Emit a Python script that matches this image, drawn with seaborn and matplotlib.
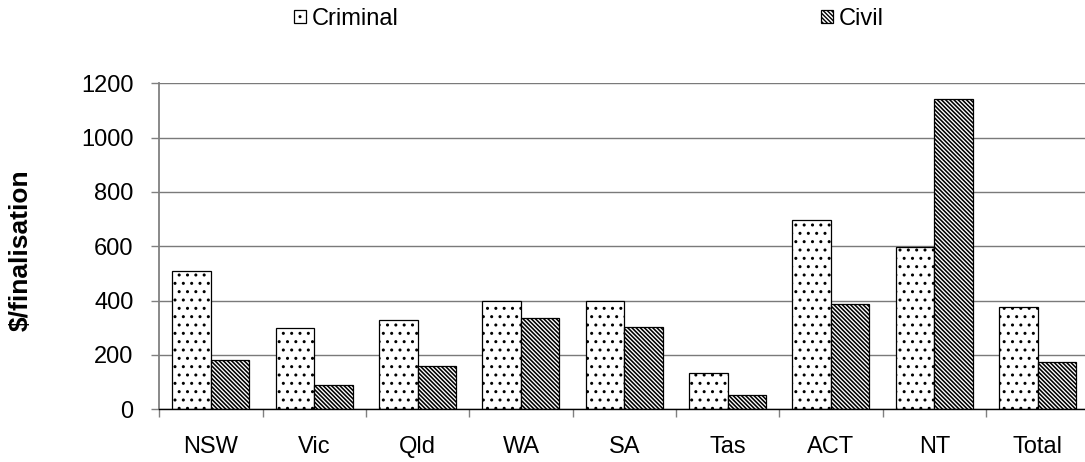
import matplotlib
matplotlib.use("Agg")
import matplotlib.pyplot as plt
import seaborn as sns
import pandas as pd
from matplotlib.ticker import FixedLocator

# values ($ per finalisation)
regions = ["NSW", "Vic", "Qld", "WA", "SA", "Tas", "ACT", "NT", "Total"]
criminal = [510, 298, 328, 398, 398, 133, 696, 597, 378]
civil = [183, 88, 158, 335, 304, 52, 387, 1141, 173]
series = ["Criminal", "Civil"]
y_ticks = [0, 200, 400, 600, 800, 1000, 1200]

df = pd.DataFrame({
    "region": regions * 2,
    "type": [series[0]] * len(regions) + [series[1]] * len(regions),
    "cost": criminal + civil,
})

sns.set_style("white")
plt.rcParams["font.family"] = ["Liberation Sans", "DejaVu Sans"]
plt.rcParams["text.color"] = "black"
plt.rcParams["axes.labelcolor"] = "black"
plt.rcParams["xtick.color"] = "black"
plt.rcParams["ytick.color"] = "black"
plt.rcParams["hatch.linewidth"] = 1.0

W, H = 1085, 462
fig = plt.figure(figsize=(W / 100, H / 100), dpi=100)
ax = fig.add_axes([159.3 / W, 52.7 / H, 930 / W, 326 / H])

sns.barplot(data=df, x="region", y="cost", hue="type", hue_order=series,
            palette=["white", "white"], saturation=1, edgecolor="black",
            linewidth=0.9, width=0.745, legend=False, ax=ax)

# dotted criminal, dense diagonal civil
hatches = ["..", "\\" * 8]
hatch_cols = ["#555555", "black"]
hatch_lws = [1.0, 1.15]
for cont, h, hc, hl in zip(ax.containers, hatches, hatch_cols, hatch_lws):
    for bar in cont:
        bar.set_hatch(h)
        if hasattr(bar, "set_hatchcolor"):
            bar.set_hatchcolor(hc)
        if hasattr(bar, "set_hatch_linewidth"):
            bar.set_hatch_linewidth(hl)

ax.set_xlim(-0.5, len(regions) - 0.5)
ax.set_ylim(0, 1200)
ax.set_yticks(y_ticks)
ax.yaxis.grid(True, color="#7a7a7a", lw=1)
ax.set_axisbelow(True)

sns.despine(ax=ax)
ax.spines["left"].set_color("#808080")
ax.spines["left"].set_linewidth(1.3)
ax.spines["bottom"].set_color("black")
ax.spines["bottom"].set_linewidth(1)

ax.tick_params(axis="y", left=True, length=5.5, width=1, color="#808080",
               labelcolor="black", pad=13, labelsize=17)
ax.tick_params(axis="x", which="major", bottom=False, length=0, pad=19,
               labelcolor="black", labelsize=17)
ax.xaxis.set_minor_locator(FixedLocator([i - 0.5 for i in range(len(regions) + 1)]))
ax.tick_params(axis="x", which="minor", bottom=True, length=6, width=1,
               color="#808080")

ax.set_xlabel("")
ax.set_ylabel("$/finalisation", fontsize=19, fontweight="bold", color="black")
ax.yaxis.set_label_coords((33 - 159.3) / 930, 0.489)

handles = [ax.containers[0][0], ax.containers[1][0]]
fig.legend(handles, series, loc="center", bbox_to_anchor=(0.543, 1 - 19 / H),
           ncol=2, frameon=False, fontsize=17, handlelength=0.5,
           handleheight=0.5, handletextpad=0.25, columnspacing=17.9,
           borderpad=0)

fig.savefig("out.png", dpi=100)
